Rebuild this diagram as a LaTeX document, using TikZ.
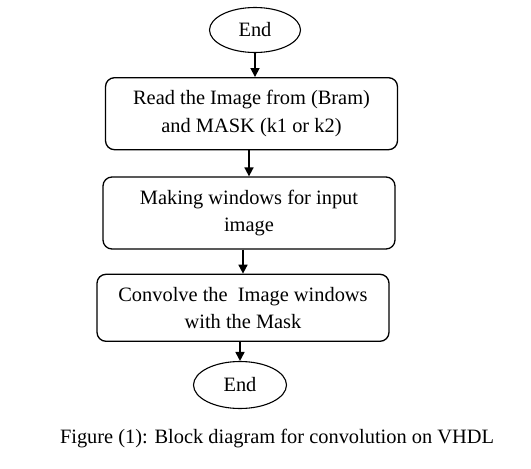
\documentclass[tikz,border=0pt]{standalone}
\usepackage{fontspec}
\setmainfont{Liberation Serif}
\usetikzlibrary{arrows.meta,positioning,shapes.geometric}

\begin{document}
\begin{tikzpicture}[x=1pt, y=1pt, font=\fontsize{20.4}{27.5}\selectfont,
    b/.style={rectangle, rounded corners=9pt, draw, line width=1.3pt,
      align=center, minimum width=292pt, minimum height=72pt, inner sep=2pt},
    term/.style={ellipse, draw, line width=1.1pt, minimum width=91pt,
      minimum height=45pt, inner sep=0pt},
    fl/.style={-{Triangle[length=9pt, width=9pt]}, line width=1.7pt}]
    \useasboundingbox (0,0) rectangle (531,-469);
    \node[term] (debut) at (255,-30) {End};
    \node[b, below=24pt of debut, xshift=-3.5pt] (lire)
      {Read the Image from (Bram)\\ and MASK (k1 or k2)};
    \node[b, below=26pt of lire, xshift=-2.5pt] (fen)
      {Making windows for input\\ image};
    \node[b, below=24pt of fen, xshift=-6pt, minimum height=67pt] (conv)
      {Convolve the\ \ Image windows\\ with the Mask};
    \node[term, below=19pt of conv, xshift=-3pt, minimum width=93pt,
      minimum height=47pt] (fin) {End};
    \draw[fl] (debut.south) -- (debut.south |- lire.north);
    \draw[fl] (lire.south -| fen.north) -- (fen.north);
    \draw[fl] (fen.south -| conv.north) -- (conv.north);
    \draw[fl] (conv.south -| fin.north) -- (fin.north);
    \node[anchor=base] (legende) at (277,-443)
      {Figure (1): Block diagram for convolution on VHDL};
  \end{tikzpicture}
\end{document}
